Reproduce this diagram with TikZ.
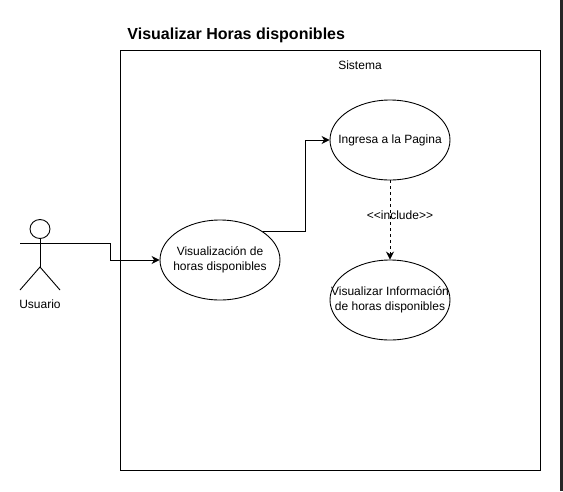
\documentclass[tikz,border=0pt]{standalone}
\usepackage{mathtools}
\usepackage{fontspec}
\setmainfont{Liberation Sans}
\usetikzlibrary{arrows.meta,positioning,calc,shapes.geometric}

\begin{document}
\begin{tikzpicture}[x=1pt, y=-1pt, font=\fontsize{12}{15}\selectfont, line width=0.9pt, >={Stealth[length=8pt,width=8pt]}]
\tikzstyle{usecase}=[draw, ellipse, minimum width=120pt, minimum height=80pt, inner sep=0pt, align=center]
\useasboundingbox (0,0) rectangle (563,491);
\fill[black!85] (560,0) rectangle (562.5,491);
\draw (120.5,50.5) rectangle (540.5,470);
\node[font=\fontsize{16}{18}\selectfont\bfseries, anchor=west, inner sep=0pt] (title) at (127,35.5) {Visualizar Horas disponibles};
\node (sistema) at (360,65) {Sistema};
\node[usecase] (vis) at (220,260) {\clap{Visualización de}\\\clap{horas disponibles}};
\node[usecase] (ingresa) at (390,140) {\clap{Ingresa a la Pagina}};
\node[usecase] (info) at (390,300) {\clap{Visualizar Información}\\\clap{de horas disponibles}};
\node (include) at (400,215) {<{}<include>{}>};
% actor
\node[draw, ellipse, minimum width=20pt, minimum height=19pt, inner sep=0pt] (head) at (40,229) {};
\coordinate (arml) at (20,243.5);
\coordinate (armr) at (60,243.5);
\coordinate (hip) at (40,267);
\coordinate (footl) at (20,290);
\coordinate (footr) at (60,290);
\node (usuario) at (40,304) {Usuario};
\draw (head.south)--(hip);
\draw (arml)--(armr);
\draw (footl)--(hip)--(footr);
\draw[->] (armr)-|(110.5,260)--(vis.west);
\draw[->] (vis.north east)-|(305,140)--(ingresa.west);
\draw[->, dashed] (ingresa.south)--(info.north);
\end{tikzpicture}
\end{document}
